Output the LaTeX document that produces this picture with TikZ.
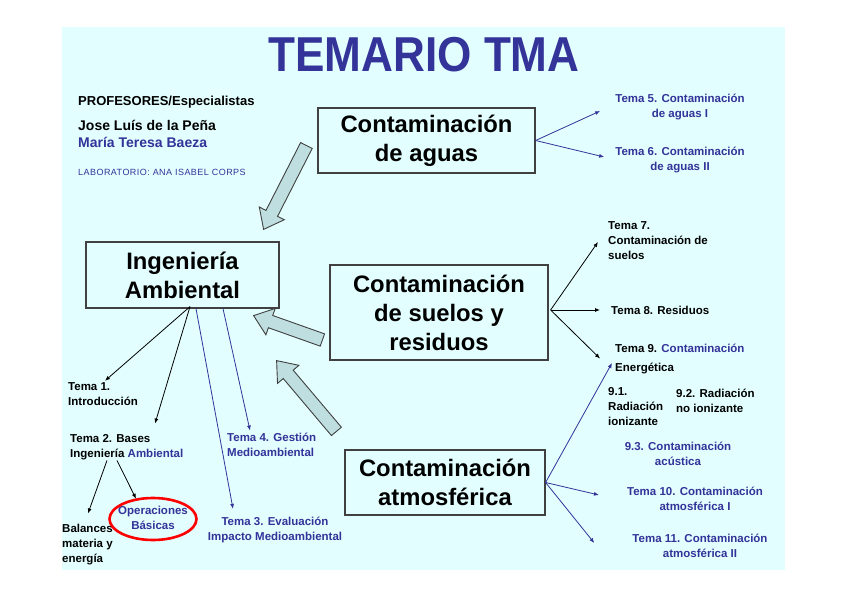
\documentclass[tikz,border=0pt]{standalone}
\usepackage{fontspec}
\setmainfont{Liberation Sans}
\usetikzlibrary{shapes.geometric,positioning,calc,arrows.meta}

\definecolor{tblue}{RGB}{51,51,153}
\definecolor{bgcyan}{HTML}{E2FEFE}
\definecolor{arrfill}{HTML}{BEDEE0}

% big hollow arrow from #1 to #2
\newcommand{\blockarrow}[2]{%
  \coordinate (ba-s) at #1;
  \coordinate (ba-e) at #2;
  \coordinate (ba-h) at ($(ba-e)!18pt!(ba-s)$);
  \draw[bigarrow] ($(ba-s)!6.5pt!90:(ba-e)$) -- ($(ba-h)!6.5pt!-90:(ba-s)$)
    -- ($(ba-h)!14pt!-90:(ba-s)$) -- (ba-e) -- ($(ba-h)!14pt!90:(ba-s)$)
    -- ($(ba-h)!6.5pt!90:(ba-s)$) -- ($(ba-s)!6.5pt!-90:(ba-e)$) -- cycle;}

\begin{document}
\begin{tikzpicture}[x=1pt,y=-1pt,
  topic/.style={draw=black!75,line width=1.2pt,inner sep=0pt,align=center,
                font=\fontsize{23.8}{29}\selectfont\bfseries},
  lbl/.style={inner sep=0pt,align=left,font=\fontsize{11.5}{15}\selectfont\bfseries},
  blbl/.style={lbl,text=tblue},
  bigarrow/.style={draw=black!75,fill=arrfill,line width=0.9pt,line join=miter},
  thinarr/.style={line width=0.8pt,-{Latex[length=5pt,width=4pt]}},
  bluearr/.style={thinarr,draw=tblue},
]
\useasboundingbox (0,0) rectangle (848,599);

% Background
\fill[bgcyan] (62,27) rectangle (785,570);

% Title
\node[text=tblue,font=\fontsize{49}{49}\selectfont\bfseries,xscale=0.9,inner sep=0pt]
  (title) at (424,55) {TEMARIO TMA};

% Teachers
\node[lbl,anchor=west,font=\fontsize{13}{15}\selectfont\bfseries] (prof) at (78,102) {PROFESORES/Especialistas};
\node[lbl,anchor=west,font=\fontsize{14}{17}\selectfont\bfseries] (jose) at (78,125) {Jose Luís de la Peña};
\node[blbl,anchor=west,font=\fontsize{14}{17}\selectfont\bfseries] (maria) at (78,142) {María Teresa Baeza};
\node[blbl,anchor=west,font=\fontsize{9}{10}\selectfont\addfontfeature{LetterSpace=5}] (lab) at (78,172) {LABORATORIO: ANA ISABEL CORPS};

% Main boxes
\node[topic,minimum width=217,minimum height=65] (aguas) at (426.5,140.5) {Contaminación\\de aguas};
\node[topic,minimum width=193,minimum height=66] (ingen) at (182.5,275) {Ingeniería\\Ambiental};
\node[topic,minimum width=218,minimum height=95] (suelos) at (439,312.5) {Contaminación\\de suelos y\\residuos};
\node[topic,minimum width=200,minimum height=65] (atmos) at (445,482.5) {Contaminación\\atmosférica};

% Big arrows into Ingenieria Ambiental
\blockarrow{($(aguas.west)+(-11,5)$)}{($(ingen.north east)+(-16,-12)$)}
\blockarrow{($(suelos.west)+(-7,27.5)$)}{($(ingen.south east)+(-26,7)$)}
\blockarrow{($(atmos.north west)+(-8,-18)$)}{($(ingen.south east)+(-3,52)$)}

% Left topics
\node[lbl,anchor=west] (t1) at (68,394.5) {Tema 1.\\Introducción};
\node[lbl,anchor=west] (t2) at (70,447.5) {Tema 2. Bases\\Ingeniería {\color{tblue}Ambiental}};
\node[blbl,anchor=west] (t4) at (227,444.5) {Tema 4. Gestión\\Medioambiental};
\node[blbl,align=center] (t3) at (275,530) {Tema 3. Evaluación\\Impacto Medioambiental};
\node[lbl,anchor=west] (bal) at (62,545) {Balances\\materia y\\energía};
\node[blbl,align=center] (ops) at (153,518) {Operaciones\\Básicas};
\node[ellipse,draw=red,line width=2.6pt,minimum width=87,minimum height=42] (opsring) at (153,519) {};

% Right topics
\node[blbl,align=center] (t5) at (680,107.5) {Tema 5. Contaminación\\de aguas I};
\node[blbl,align=center] (t6) at (680,160.5) {Tema 6. Contaminación\\de aguas II};
\node[lbl,anchor=west] (t7) at (608,240.5) {Tema 7.\\Contaminación de\\suelos};
\node[lbl,anchor=west] (t8) at (611,310) {Tema 8. Residuos};
\node[lbl,anchor=west] (t9) at (615,358.5) {Tema 9. {\color{tblue}Contaminación}\\[4pt]Energética};
\node[lbl,anchor=west] (t91) at (608,407) {9.1.\\Radiación\\ionizante};
\node[lbl,anchor=west] (t92) at (676,400.5) {9.2. Radiación\\no ionizante};
\node[blbl,align=center] (t93) at (678,453.5) {9.3. Contaminación\\acústica};
\node[blbl,align=center] (t10) at (695,499) {Tema 10. Contaminación\\atmosférica I};
\node[blbl,align=center] (t11) at (700,546) {Tema 11. Contaminación\\atmosférica II};

% Connectors from Ingenieria Ambiental
\draw[thinarr] ($(ingen.south)+(7.5,-2)$) -- ($(t1.north west)+(37,-2)$);
\draw[thinarr] ($(ingen.south)+(7.5,-2)$) -- ($(t2.north west)+(85,-11)$);
\draw[bluearr] ($(ingen.south)+(13.5,0)$) -- ($(t3.north)+(-42,-8)$);
\draw[bluearr] ($(ingen.south)+(40.5,0)$) -- ($(t4.north west)+(23,-2)$);
\draw[thinarr] ($(t2.south west)+(37,0)$) -- ($(bal.north west)+(26,-11)$);
\draw[thinarr] ($(t2.south west)+(47,0)$) -- ($(opsring.north)+(-17,2)$);

% Connectors to the right
\draw[bluearr] (aguas.east) -- ($(t5.west)+(-15,3.5)$);
\draw[bluearr] (aguas.east) -- ($(t6.west)+(-11,-3.5)$);
\draw[thinarr] ($(suelos.east)+(2,-2.5)$) -- ($(t7.west)+(-10,1.5)$);
\draw[thinarr] ($(suelos.east)+(2,-2.5)$) -- ($(t8.west)+(-11,0)$);
\draw[thinarr] ($(suelos.east)+(2,-2.5)$) -- ($(t9.west)+(-15,0)$);
\draw[bluearr] (atmos.east) -- ($(t9.west)+(-3,4.5)$);
\draw[bluearr] (atmos.east) -- ($(t10.west)+(-28,-4)$);
\draw[bluearr] (atmos.east) -- ($(t11.west)+(-38,-3)$);

\end{tikzpicture}
\end{document}
